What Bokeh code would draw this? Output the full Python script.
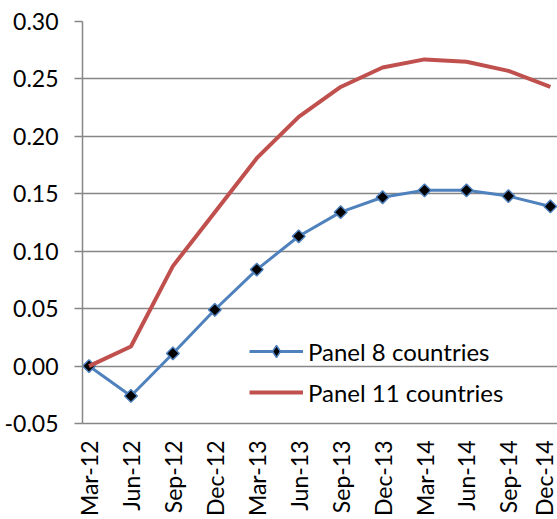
from bokeh.plotting import figure
from bokeh.models import Range1d, FixedTicker, PrintfTickFormatter, Legend, LegendItem
from bokeh.embed import file_html
from bokeh.resources import INLINE
import math

categories = ["Mar-12", "Jun-12", "Sep-12", "Dec-12", "Mar-13", "Jun-13",
              "Sep-13", "Dec-13", "Mar-14", "Jun-14", "Sep-14", "Dec-14"]
panel8 = [0.000, -0.026, 0.011, 0.049, 0.084, 0.113, 0.134, 0.147, 0.153, 0.153, 0.148, 0.139]
panel11 = [0.000, 0.017, 0.087, 0.134, 0.181, 0.217, 0.243, 0.260, 0.267, 0.265, 0.257, 0.243]
y_ticks = [-0.05, 0.00, 0.05, 0.10, 0.15, 0.20, 0.25, 0.30]

xs = list(range(len(categories)))

FONT = "Lato"
GRID = "#868686"

p = figure(width=557, height=519, output_backend="svg", toolbar_location=None,
           x_range=Range1d(-0.155, 11.17), y_range=Range1d(-0.05, 0.30),
           min_border_left=82, min_border_right=0, min_border_top=21, min_border_bottom=96)
p.outline_line_color = None
p.background_fill_color = "white"

# y axis
p.yaxis.ticker = FixedTicker(ticks=y_ticks)
p.yaxis.formatter = PrintfTickFormatter(format="%.2f")
p.yaxis.major_label_text_font = FONT
p.yaxis.major_label_text_font_size = "23px"
p.yaxis.major_label_text_color = "black"
p.yaxis.axis_line_color = GRID
p.yaxis.axis_line_width = 1.5
p.yaxis.major_tick_line_color = GRID
p.yaxis.major_tick_line_width = 1.5
p.yaxis.major_tick_out = 8
p.yaxis.major_tick_in = 0
p.yaxis.minor_tick_line_color = None
p.yaxis.major_label_standoff = 16

# x axis
p.xaxis.ticker = FixedTicker(ticks=xs)
p.xaxis.major_label_overrides = {i: c for i, c in zip(xs, categories)}
p.xaxis.major_label_orientation = math.pi / 2
p.xaxis.major_label_text_font = FONT
p.xaxis.major_label_text_font_size = "23px"
p.xaxis.major_label_text_color = "black"
p.xaxis.axis_line_color = GRID
p.xaxis.axis_line_width = 1.5
p.xaxis.major_tick_line_color = None
p.xaxis.minor_tick_line_color = None
p.xaxis.major_label_standoff = 11

p.xgrid.grid_line_color = None
p.ygrid.ticker = FixedTicker(ticks=y_ticks)
p.ygrid.grid_line_color = GRID
p.ygrid.grid_line_width = 1.5

blue = "#4F81BD"
red = "#C0504D"

r_line8 = p.line(xs, panel8, line_color=blue, line_width=3)
r_mark8 = p.scatter(xs, panel8, marker="square", angle=math.pi / 4, size=9,
                    fill_color="black", line_color=blue, line_width=1.5)
r_line11 = p.line(xs, panel11, line_color=red, line_width=4)
# legend-only marker (diamond shape for the legend swatch)
r_leg8 = p.scatter(xs, panel8, marker="diamond", size=14, fill_color="black",
                   line_color=blue, line_width=1.5, visible=False)

legend = Legend(items=[
    LegendItem(label="Panel 8 countries", renderers=[r_line8, r_leg8]),
    LegendItem(label="Panel 11 countries", renderers=[r_line11]),
], location=(167, 16))
legend.label_text_font = FONT
legend.label_text_font_size = "24px"
legend.label_text_color = "black"
legend.glyph_width = 54
legend.glyph_height = 30
legend.label_height = 30
legend.spacing = 11
legend.padding = 0
legend.margin = 0
legend.label_standoff = 5
legend.border_line_color = None
legend.background_fill_alpha = 0
p.add_layout(legend)

open("out.html", "w").write(file_html(p, INLINE))
